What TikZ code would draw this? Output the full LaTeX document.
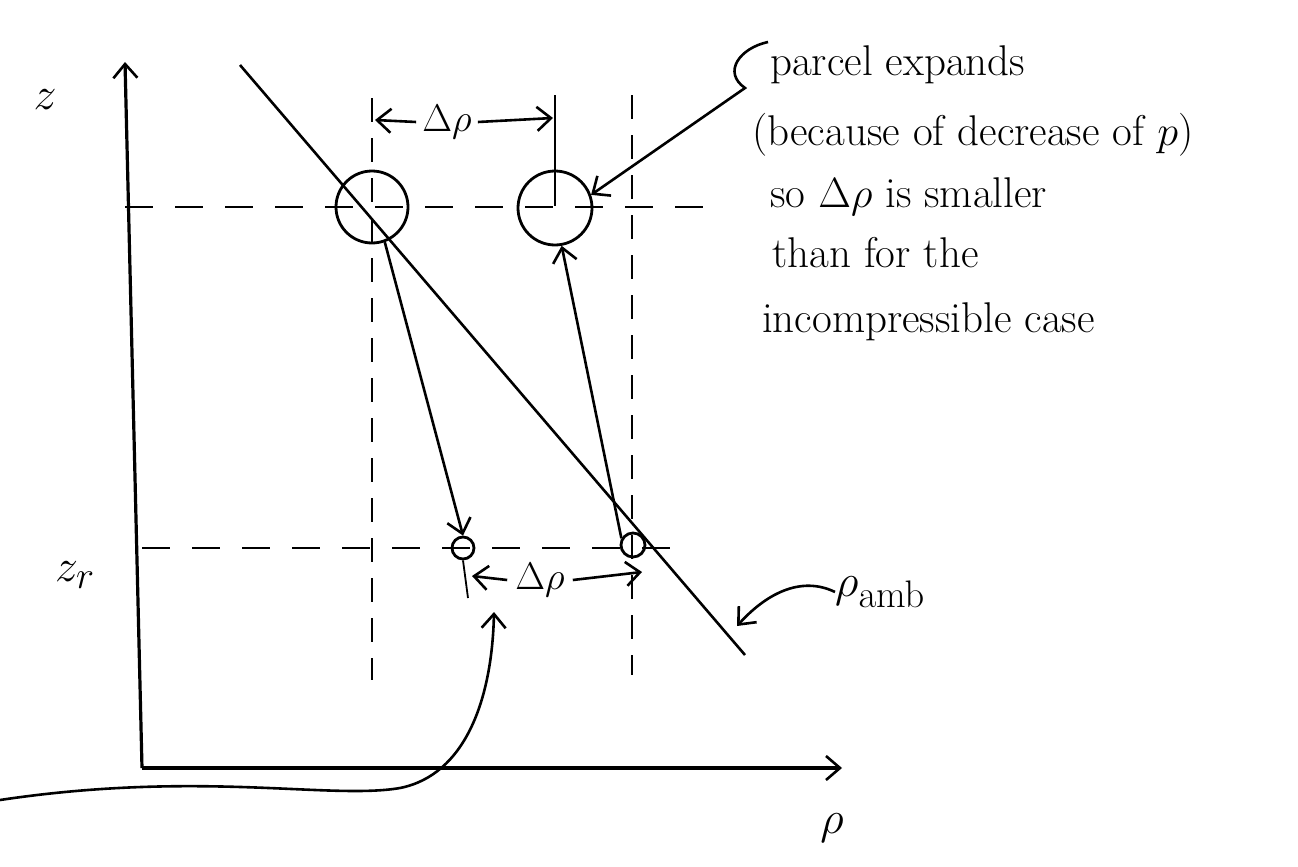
\documentclass[tikz,border=0pt]{standalone}
\usepackage{graphicx}
\usetikzlibrary{arrows.meta}
\newcommand{\hm}[1]{\scalebox{1.85}{\fontsize{24.88}{30}\selectfont$#1$}}
\newcommand{\hd}[1]{\scalebox{1.55}{\fontsize{24.88}{30}\selectfont$#1$}}
\newcommand{\hs}[1]{\scalebox{1.7}{\fontsize{24.88}{30}\selectfont$#1$}}
\begin{document}
\begin{tikzpicture}[x=1pt,y=-1pt,
  tip/.style={-{Straight Barb[length=14pt,width=24pt,line width=2.6pt]}},
  ax/.style={line width=3.2pt, tip},
  arr/.style={line width=2.6pt, tip},
  guide/.style={line width=1.8pt, dash pattern=on 28pt off 22pt},
  vguide/.style={line width=1.4pt, dash pattern=on 24pt off 16pt},
  parcel/.style={circle, draw, line width=2.8pt, inner sep=0pt},
  hand/.style={font=\fontsize{43}{50}\selectfont, inner sep=0pt, anchor=base west},
  lab/.style={inner sep=0pt},
]
\useasboundingbox (0,0) rectangle (1298,867);
% axes
\coordinate (O) at (142,768);
\coordinate (ztop) at (125,62);
\coordinate (rend) at (842,768);
\draw[ax] (O) -- (ztop);
\draw[ax] (O) -- (rend);
\node[lab] (zl) at (45,100) {\hm{z}};
\node[lab] (zrl) at (75,575) {\hm{z_r}};
\node[lab] (rl) at (832,828) {\hm{\rho}};
% guide lines
\draw[guide] (125,207) -- (705,207);
\draw[guide] (142,548) -- (690,548);
\draw[vguide] (372,98) -- (372,680);
\draw[vguide] (632,95) -- (632,675);
\draw[line width=1.3pt] (555,95) -- (555,206);
% ambient profile
\coordinate (a1) at (240,65);
\coordinate (a2) at (745,655);
\draw[line width=2.6pt] (a1) -- (a2);
% parcels
\node[parcel, minimum size=72pt] (p1) at (372,207) {};
\node[parcel, minimum size=74pt] (p2) at (555,208) {};
\node[parcel, minimum size=22pt] (p3) at (463,548) {};
\node[parcel, minimum size=24pt] (p4) at (633,545) {};
\coordinate (p3tail) at (468,598);
\draw[line width=1.8pt] (p3.south) -- (p3tail);
% displacement arrows
\draw[arr] (p1.-70) -- (p3.north);
\draw[arr] (p4.150) -- (p2.-80);
% delta rho labels
\node[lab] (d1) at (447,122) {\hd{\Delta\rho}};
\coordinate (d1l) at (375,120);
\coordinate (d1r) at (553,118);
\draw[arr] (d1.west) ++(-6,0) -- (d1l);
\draw[arr] (d1.east) ++(6,0) -- (d1r);
\node[lab] (d2) at (540,580) {\hd{\Delta\rho}};
\coordinate (d2l) at (472,576);
\coordinate (d2r) at (642,572);
\draw[arr] (d2.west) ++(-8,0) -- (d2l);
\draw[arr] (d2.east) ++(8,0) -- (d2r);
% lower curved pointer
\coordinate (c0) at (0,800);
\coordinate (c1) at (494,612);
\draw[arr] (c0) .. controls (200,770) and (330,800) .. (400,788) .. controls (465,775) and (492,700) .. (c1);
% annotation
\node[hand] (t1) at (770,75) {parcel expands};
\node[hand] (t2) at (752,145) {(because of decrease of \hs{p})};
\node[hand] (t3) at (770,207) {so \hs{\Delta\rho} is smaller};
\node[hand] (t4) at (772,267) {than for the};
\node[hand] (t5) at (762,332) {incompressible case};
\coordinate (s0) at (768,42);
\draw[arr] (s0) .. controls (740,48) and (722,72) .. (745,88) -- (p2.20);
% rho amb
\node[lab, anchor=west] (ramb) at (835,592) {\hm{\rho_{\mathrm{amb}}}};
\coordinate (rt) at (737,626);
\draw[arr] (ramb.west) .. controls (800,575) and (765,595) .. (rt);
\end{tikzpicture}
\end{document}
